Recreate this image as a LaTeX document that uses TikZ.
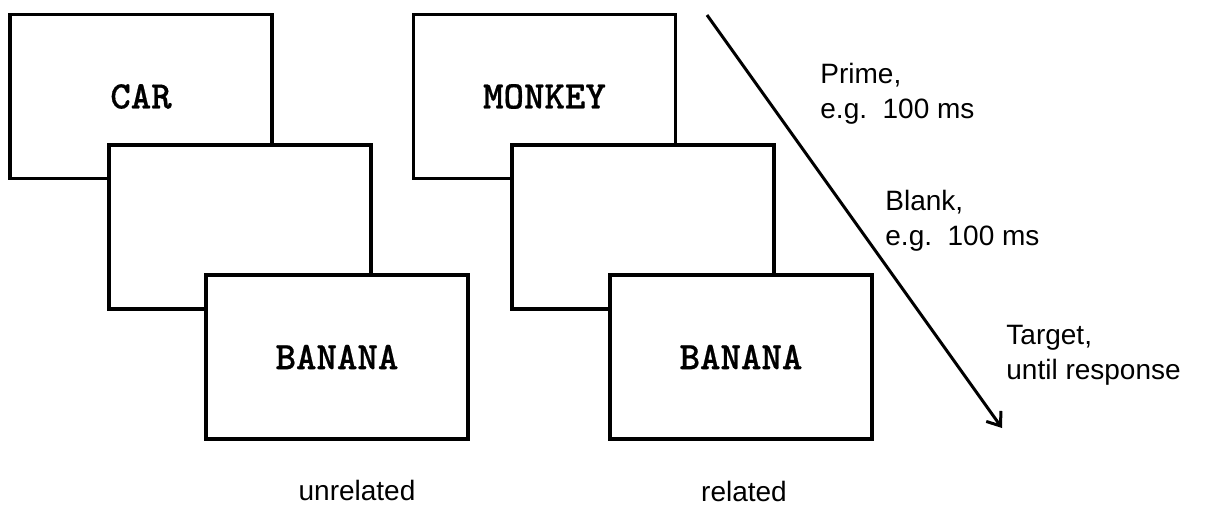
\documentclass[tikz,border=0pt]{standalone}
\usepackage{fontspec}
\setmainfont{Liberation Sans}
\newfontfamily\wordfont[FakeBold=0.5]{lmmonolt10-bold.otf}
\usetikzlibrary{arrows.meta}
\begin{document}
\begin{tikzpicture}[x=0.5pt,y=-0.5pt,>={Straight Barb[length=6pt,width=9pt]},
  screen/.style={draw,line width=1.6pt,fill=white,inner sep=0pt,
    minimum width=131pt,minimum height=82pt,
    font=\wordfont\fontsize{19.5}{22}\selectfont},
  phase/.style={anchor=north west,inner sep=0pt,align=left,
    font=\fontsize{14}{17.5}\selectfont},
  cond/.style={anchor=base,inner sep=0pt,font=\fontsize{14}{17.5}\selectfont}]
  \useasboundingbox (0,0) rectangle (1205,504);
  % unrelated trial
  \node[screen] (p1) at (141,96.5) {CAR};
  \node[screen] (b1) at (240,227) {};
  \node[screen] (t1) at (337,357) {BANANA};
  \node[cond] (u) at (357,500) {unrelated};
  % related trial
  \node[screen] (p2) at (544.5,96.5) {MONKEY};
  \node[screen] (b2) at (643,227) {};
  \node[screen] (t2) at (741,357) {BANANA};
  \node[cond] (r) at (744,501) {related};
  % time line
  \coordinate (t0) at (707,15);
  \coordinate (tn) at (1002,428);
  \draw[line width=1.5pt,->] (t0) -- (tn);
  \node[phase] (prime) at (820,63) {Prime,\\e.g.\ \ 100 ms};
  \node[phase] (blank) at (885,190) {Blank,\\e.g.\ \ 100 ms};
  \node[phase] (target) at (1006,325) {Target,\\until response};
\end{tikzpicture}
\end{document}
